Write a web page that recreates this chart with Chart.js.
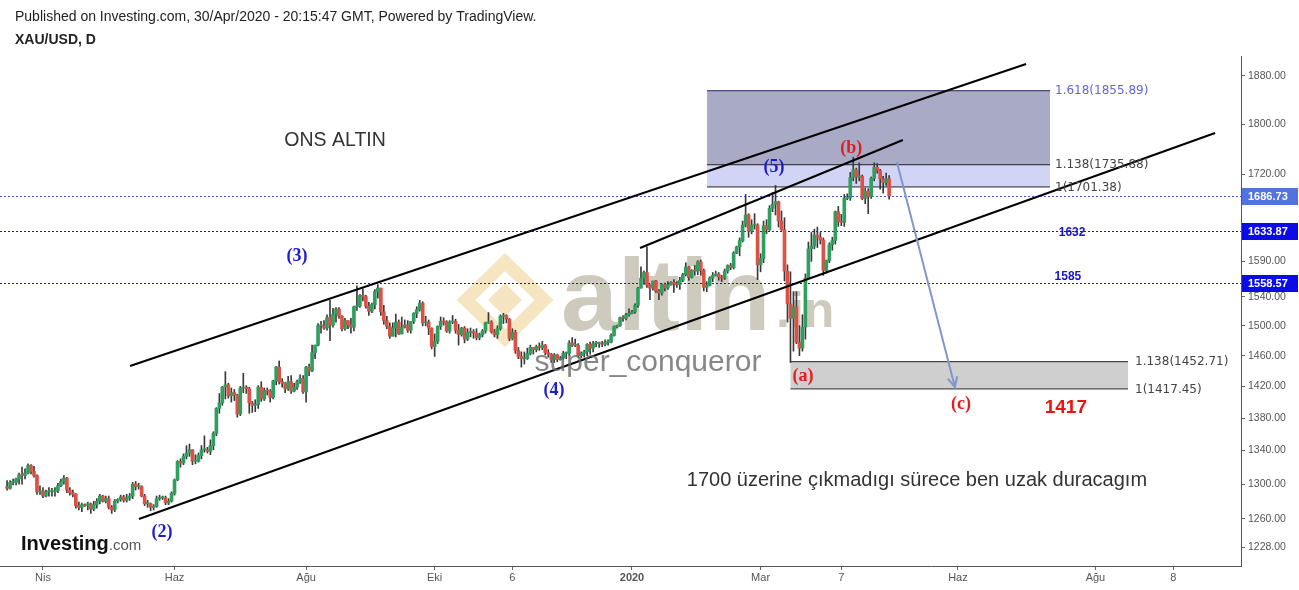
<!DOCTYPE html>
<html>
<head>
<meta charset="utf-8">
<script src="https://cdn.jsdelivr.net/npm/chart.js@4.4.0/dist/chart.umd.min.js"></script>
<style>
html, body { margin: 0; padding: 0; background: #fff; }
canvas { display: block; }
</style>
</head>
<body>
<canvas id="myChart" width="1299" height="590"></canvas>
<script>
// XAU/USD daily candles [open, high, low, close], one row per weekday, 14 Mar 2019 .. 30 Apr 2020
const candles = [
  [1297,1304,1293,1295],[1295,1304,1294,1302],
  [1302,1306,1299,1302],[1302,1307,1299,1306],[1306,1313,1300,1311],[1311,1320,1300,1310],[1310,1318,1306,1313],
  [1313,1324,1312,1322],[1322,1323,1312,1315],[1315,1321,1308,1310],[1310,1311,1288,1291],[1291,1298,1288,1292],
  [1292,1296,1284,1286],[1286,1293,1285,1291],[1291,1296,1286,1291],[1291,1295,1286,1291],[1291,1296,1286,1292],
  [1292,1301,1290,1298],[1298,1306,1297,1303],[1303,1310,1300,1307],[1307,1308,1290,1293],[1293,1296,1287,1290],
  [1290,1293,1285,1288],[1288,1289,1272,1275],[1275,1279,1270,1273],[1273,1278,1268,1276],[1276,1277,1274,1275],
  [1275,1279,1270,1277],[1277,1278,1266,1271],[1271,1280,1269,1276],[1276,1283,1272,1280],[1280,1288,1277,1286],
  [1286,1287,1279,1280],[1280,1286,1278,1283],[1283,1286,1271,1273],[1273,1275,1266,1270],[1270,1282,1268,1280],
  [1280,1283,1278,1282],[1282,1287,1280,1285],[1285,1287,1279,1281],[1281,1288,1279,1284],[1284,1289,1281,1286],
  [1286,1302,1283,1300],[1300,1303,1293,1297],[1297,1301,1294,1297],[1297,1298,1285,1286],[1286,1288,1275,1277],
  [1277,1281,1273,1277],[1277,1278,1269,1273],[1273,1276,1270,1274],[1274,1286,1273,1283],[1283,1287,1281,1284],
  [1284,1286,1282,1284],[1284,1286,1276,1278],[1278,1283,1276,1280],[1280,1291,1279,1289],[1289,1306,1287,1305],
  [1305,1328,1304,1327],[1327,1330,1320,1325],[1325,1336,1323,1333],[1333,1346,1330,1337],[1337,1348,1333,1341],
  [1341,1341,1323,1327],[1327,1335,1324,1327],[1327,1337,1326,1334],[1334,1346,1330,1341],[1341,1358,1338,1341],
  [1341,1344,1337,1339],[1339,1353,1335,1346],[1346,1363,1341,1361],[1361,1393,1358,1392],[1392,1411,1386,1399],
  [1399,1420,1396,1419],[1419,1439,1404,1422],[1422,1424,1405,1408],[1408,1418,1400,1412],[1412,1416,1402,1409],
  [1409,1410,1381,1385],[1385,1420,1383,1418],[1418,1437,1412,1419],[1419,1421,1411,1417],[1417,1419,1386,1399],
  [1399,1401,1387,1396],[1396,1403,1388,1397],[1397,1421,1392,1419],[1419,1426,1401,1404],[1404,1418,1402,1415],
  [1415,1418,1409,1414],[1414,1416,1400,1406],[1406,1428,1404,1427],[1427,1446,1422,1445],[1445,1453,1423,1426],
  [1426,1430,1419,1424],[1424,1425,1412,1417],[1417,1433,1415,1426],[1426,1434,1411,1414],[1414,1424,1413,1419],
  [1419,1428,1416,1426],[1426,1435,1424,1430],[1430,1434,1411,1413],[1413,1446,1400,1445],[1445,1449,1434,1440],
  [1440,1474,1439,1464],[1464,1474,1456,1474],[1474,1503,1473,1500],[1500,1506,1490,1500],[1500,1507,1495,1497],
  [1497,1515,1494,1511],[1511,1535,1480,1501],[1501,1524,1498,1516],[1516,1525,1505,1523],[1523,1525,1510,1513],
  [1513,1514,1493,1496],[1496,1510,1494,1507],[1507,1507,1496,1501],[1501,1510,1490,1498],[1498,1527,1493,1526],
  [1526,1555,1521,1527],[1527,1543,1525,1542],[1542,1551,1534,1540],[1540,1542,1524,1527],[1527,1532,1514,1520],
  [1520,1531,1518,1529],[1529,1550,1523,1547],[1547,1557,1538,1552],[1552,1552,1514,1519],[1519,1528,1502,1507],
  [1507,1513,1496,1499],[1499,1504,1483,1486],[1486,1504,1486,1497],[1497,1516,1485,1505],[1505,1508,1488,1489],
  [1489,1512,1489,1498],[1498,1508,1497,1501],[1501,1507,1491,1494],[1494,1506,1490,1506],[1506,1518,1503,1517],
  [1517,1526,1511,1522],[1522,1535,1520,1531],[1531,1533,1500,1504],[1504,1513,1500,1505],[1505,1508,1488,1497],
  [1497,1497,1469,1472],[1472,1489,1459,1479],[1479,1500,1476,1499],[1499,1512,1495,1506],[1506,1511,1501,1505],
  [1505,1507,1491,1493],[1493,1507,1490,1505],[1505,1514,1503,1506],[1506,1509,1490,1494],[1494,1502,1474,1488],
  [1488,1498,1486,1497],[1497,1499,1477,1482],[1482,1496,1480,1491],[1491,1497,1485,1492],[1492,1495,1483,1490],
  [1490,1496,1481,1484],[1484,1490,1481,1488],[1488,1495,1485,1493],[1493,1505,1490,1504],[1504,1518,1503,1505],
  [1505,1507,1490,1492],[1492,1495,1485,1488],[1488,1500,1483,1496],[1496,1515,1494,1513],[1513,1517,1503,1514],
  [1514,1515,1504,1509],[1509,1510,1480,1483],[1483,1496,1481,1491],[1491,1494,1463,1467],[1467,1471,1456,1459],
  [1459,1465,1445,1456],[1456,1465,1449,1456],[1456,1470,1455,1463],[1463,1474,1461,1471],[1471,1471,1462,1468],
  [1468,1474,1465,1472],[1472,1477,1467,1471],[1471,1479,1468,1474],[1474,1475,1461,1464],[1464,1468,1458,1462],
  [1462,1463,1451,1455],[1455,1463,1451,1461],[1461,1462,1452,1455],[1455,1459,1454,1457],[1457,1466,1455,1463],
  [1463,1465,1456,1463],[1463,1480,1461,1477],[1477,1484,1472,1474],[1474,1482,1472,1474],[1474,1476,1458,1460],
  [1460,1465,1457,1463],[1463,1467,1458,1465],[1465,1476,1460,1475],[1475,1478,1462,1470],[1470,1479,1465,1476],
  [1476,1479,1472,1476],[1476,1478,1471,1476],[1476,1479,1472,1475],[1475,1481,1473,1478],[1478,1481,1474,1478],
  [1478,1489,1477,1487],[1487,1500,1486,1499],[1499,1501,1497,1500],[1500,1512,1499,1511],[1511,1514,1506,1510],
  [1510,1517,1508,1515],[1515,1523,1513,1517],[1517,1521,1516,1519],[1519,1530,1517,1528],[1528,1553,1525,1552],
  [1552,1582,1552,1566],[1566,1576,1557,1574],[1574,1611,1553,1556],[1556,1557,1536,1552],[1552,1562,1549,1562],
  [1562,1563,1546,1548],[1548,1550,1536,1545],[1545,1558,1542,1557],[1557,1559,1548,1552],[1552,1561,1550,1557],
  [1557,1561,1556,1560],[1560,1564,1546,1558],[1558,1561,1553,1557],[1557,1567,1550,1563],[1563,1573,1561,1571],
  [1571,1588,1569,1582],[1582,1583,1563,1567],[1567,1578,1566,1577],[1577,1584,1570,1576],[1576,1591,1571,1589],
  [1589,1592,1570,1577],[1577,1579,1548,1553],[1553,1561,1547,1556],[1556,1568,1555,1566],[1566,1574,1561,1570],
  [1570,1576,1569,1572],[1572,1574,1563,1568],[1568,1570,1561,1566],[1566,1579,1564,1576],[1576,1585,1573,1584],
  [1584,1587,1578,1581],[1581,1604,1579,1602],[1602,1612,1601,1611],[1611,1624,1598,1620],[1620,1649,1618,1643],
  [1643,1689,1640,1658],[1658,1660,1625,1634],[1634,1651,1630,1643],[1643,1660,1637,1643],[1643,1645,1564,1585],
  [1585,1601,1575,1594],[1594,1649,1588,1642],[1642,1651,1630,1636],[1636,1672,1635,1668],[1668,1692,1663,1674],
  [1674,1703,1658,1678],[1678,1679,1640,1649],[1649,1664,1635,1636],[1636,1654,1562,1576],[1576,1585,1505,1530],
  [1530,1575,1451,1510],[1510,1547,1466,1526],[1526,1547,1476,1478],[1478,1500,1460,1470],[1470,1515,1466,1498],
  [1498,1572,1482,1566],[1566,1618,1566,1608],[1608,1632,1590,1612],[1612,1637,1608,1628],[1628,1640,1610,1625],
  [1625,1632,1615,1621],[1621,1624,1570,1577],[1577,1592,1573,1591],[1591,1617,1588,1614],[1614,1625,1606,1620],
  [1620,1664,1615,1663],[1663,1671,1641,1648],[1648,1659,1642,1647],[1647,1689,1641,1683],[1683,1690,1681,1684],
  [1684,1723,1680,1715],[1715,1747,1710,1727],[1727,1730,1706,1716],[1716,1738,1710,1717],[1717,1719,1681,1683],
  [1683,1699,1675,1694],[1694,1698,1660,1686],[1686,1716,1683,1714],[1714,1738,1710,1731],[1731,1737,1722,1726],
  [1726,1728,1697,1713],[1713,1717,1691,1707],[1707,1722,1703,1713],[1713,1718,1682,1686.73]
];

// x axis: bar index -> label
const xTickPos  = [12, 56, 100, 143, 169, 209, 252, 279, 318, 364, 390];
const xTickText = ['Nis', 'Haz', 'Ağu', 'Eki', '6', '2020', 'Mar', '7', 'Haz', 'Ağu', '8'];
const priceTicks = [1228, 1260, 1300, 1340, 1380, 1420, 1460, 1500, 1540, 1590, 1720, 1800, 1880];

// horizontal levels with price tags
const levelPrices = [1686.73, 1633.87, 1558.57];

// trend channels [idx1, price1, idx2, price2]
const channels = [
  [41.1, 1446.5, 340.8, 1900.5],
  [44.1, 1259.6, 404.0, 1785.6],
  [211.7, 1609.3, 299.6, 1774.3]
];

// fibonacci extensions
const fibUpRange = [234.1, 348.8];
const fibUpLevels = [1855.89, 1735.88, 1701.38];
const fibUpNames = ['1.618', '1.138', '1'];
const fibLowRange = [262, 374.9];
const fibLowLevels = [1452.71, 1417.45];
const fibLowNames = ['1.138', '1'];

// arrow from (b) to (c)
const arrowPts = [297.6, 1739.4, 317.0, 1419.2];

// wave labels [text, idx, price]
const waveBlue = [['(2)', 51.8, 1244.9], ['(3)', 97.0, 1597.6], ['(4)', 182.9, 1415.4], ['(5)', 256.5, 1731.5]];
const waveRed = [['(a)', 266.2, 1433.3], ['(b)', 282.3, 1761.6], ['(c)', 319.0, 1397.6]];
const levelNotes = [['1632', 356.2, 1632], ['1585', 354.8, 1567.6]];
const notes = [
  ['ONS ALTIN', 109.7, 1772.6],
  ['1700 üzerine çıkmadıgı sürece ben uzak duracagım', 304.3, 1304.7]
];
const targetNote = ['1417', 354.1, 1392.5];

const SANS = '"Liberation Sans", Arial, sans-serif';
const SERIF = '"Liberation Serif", "Times New Roman", serif';
const UP = '#2e9f5e', DOWN = '#dc5046';

const bodies = candles.map((c, i) => ({x: i, y: [c[0], c[3]]}));
const wicks = candles.map((c, i) => ({x: i, y: [c[2], c[1]]}));
const bodyColors = candles.map(c => c[3] >= c[0] ? UP : DOWN);

function line(ctx, x1, y1, x2, y2) {
    ctx.beginPath();
    ctx.moveTo(x1, y1);
    ctx.lineTo(x2, y2);
    ctx.stroke();
}

const overlay = {
    id: 'overlay',
    beforeDatasetsDraw(chart) {
        const {ctx, chartArea: a, scales: {x, y}} = chart;
        ctx.save();
        ctx.beginPath();
        ctx.rect(a.left, a.top, a.right - a.left, a.bottom - a.top);
        ctx.clip();

        // altin.in watermark
        ctx.strokeStyle = 'rgba(238,212,150,0.6)';
        ctx.lineWidth = 13;
        ctx.beginPath();
        ctx.moveTo(466, 300); ctx.lineTo(505, 262); ctx.lineTo(544, 300); ctx.lineTo(505, 338); ctx.closePath();
        ctx.stroke();
        ctx.fillStyle = 'rgba(232,196,120,0.45)';
        ctx.beginPath();
        ctx.moveTo(488, 300); ctx.lineTo(505, 283); ctx.lineTo(522, 300); ctx.lineTo(505, 317); ctx.closePath();
        ctx.fill();
        ctx.fillStyle = 'rgba(190,184,168,0.75)';
        ctx.textBaseline = 'alphabetic';
        ctx.textAlign = 'left';
        ctx.font = 'bold 102px ' + SANS;
        ctx.fillText('altin', 561, 330);
        ctx.font = 'bold 50px ' + SANS;
        ctx.fillText('.in', 776, 327);

        // upper fib box
        let xl = x.getPixelForValue(fibUpRange[0]), xr = x.getPixelForValue(fibUpRange[1]);
        let ys = fibUpLevels.map(p => y.getPixelForValue(p));
        ctx.fillStyle = '#a9aac6';
        ctx.fillRect(xl, ys[0], xr - xl, ys[1] - ys[0]);
        ctx.fillStyle = '#d2d4f6';
        ctx.fillRect(xl, ys[1], xr - xl, ys[2] - ys[1]);
        ctx.lineWidth = 1;
        ctx.strokeStyle = '#2a2a70';
        line(ctx, xl, ys[0] + 0.5, xr, ys[0] + 0.5);
        ctx.strokeStyle = '#1a1a1a';
        line(ctx, xl, ys[1] + 0.5, xr, ys[1] + 0.5);
        line(ctx, xl, ys[2] + 0.5, xr, ys[2] + 0.5);

        // lower fib box
        xl = x.getPixelForValue(fibLowRange[0]); xr = x.getPixelForValue(fibLowRange[1]);
        ys = fibLowLevels.map(p => y.getPixelForValue(p));
        ctx.fillStyle = '#cfcfcf';
        ctx.fillRect(xl, ys[0], xr - xl, ys[1] - ys[0]);
        ctx.strokeStyle = '#222';
        line(ctx, xl, ys[0] + 0.5, xr, ys[0] + 0.5);
        line(ctx, xl, ys[1] + 0.5, xr, ys[1] + 0.5);

        // dotted level lines
        ctx.setLineDash([2, 2]);
        levelPrices.forEach((p, i) => {
            const yy = Math.round(y.getPixelForValue(p)) + 0.5;
            ctx.strokeStyle = i === 0 ? '#3a5ad0' : '#20208c';
            line(ctx, a.left, yy, a.right, yy);
        });
        ctx.restore();
    },
    afterDatasetsDraw(chart) {
        const {ctx, chartArea: a, scales: {x, y}} = chart;
        const px = v => x.getPixelForValue(v), py = v => y.getPixelForValue(v);
        ctx.save();
        ctx.beginPath();
        ctx.rect(a.left, a.top, a.right - a.left, a.bottom - a.top);
        ctx.clip();

        // channels
        ctx.strokeStyle = '#000';
        ctx.lineWidth = 2;
        channels.forEach(c => line(ctx, px(c[0]), py(c[1]), px(c[2]), py(c[3])));

        // arrow
        const ax1 = px(arrowPts[0]), ay1 = py(arrowPts[1]), ax2 = px(arrowPts[2]), ay2 = py(arrowPts[3]);
        ctx.strokeStyle = '#7f98c9';
        ctx.lineWidth = 2;
        line(ctx, ax1, ay1, ax2, ay2);
        const ang = Math.atan2(ay2 - ay1, ax2 - ax1);
        ctx.beginPath();
        ctx.moveTo(ax2 - 11 * Math.cos(ang - 0.45), ay2 - 11 * Math.sin(ang - 0.45));
        ctx.lineTo(ax2, ay2);
        ctx.lineTo(ax2 - 11 * Math.cos(ang + 0.45), ay2 - 11 * Math.sin(ang + 0.45));
        ctx.stroke();

        // fib labels
        ctx.textAlign = 'left';
        ctx.textBaseline = 'middle';
        ctx.font = '12px "DejaVu Sans", Verdana, sans-serif';
        fibUpLevels.forEach((p, i) => {
            ctx.fillStyle = i === 0 ? '#6464d8' : '#444';
            ctx.fillText(fibUpNames[i] + '(' + p.toFixed(2) + ')', px(fibUpRange[1]) + 5, py(p) + 1);
        });
        fibLowLevels.forEach((p, i) => {
            ctx.fillStyle = '#444';
            ctx.fillText(fibLowNames[i] + '(' + p.toFixed(2) + ')', px(fibLowRange[1]) + 7, py(p) + 1);
        });

        // wave labels
        ctx.textAlign = 'center';
        ctx.font = 'bold 18px ' + SERIF;
        ctx.fillStyle = '#1c1cd0';
        waveBlue.forEach(w => ctx.fillText(w[0], px(w[1]), py(w[2])));
        ctx.fillStyle = '#e01e1e';
        waveRed.forEach(w => ctx.fillText(w[0], px(w[1]), py(w[2])));

        ctx.font = 'bold 12px ' + SANS;
        ctx.fillStyle = '#1414c8';
        levelNotes.forEach(n => ctx.fillText(n[0], px(n[1]), py(n[2])));

        ctx.fillStyle = '#ee1111';
        ctx.font = 'bold 19px ' + SANS;
        ctx.fillText(targetNote[0], px(targetNote[1]), py(targetNote[2]));

        ctx.fillStyle = '#333';
        ctx.font = '19.5px ' + SANS;
        ctx.fillText(notes[0][0], px(notes[0][1]), py(notes[0][2]));
        ctx.font = '20px ' + SANS;
        ctx.fillText(notes[1][0], px(notes[1][1]), py(notes[1][2]));

        // author watermark
        ctx.fillStyle = 'rgba(105,105,105,0.8)';
        ctx.font = '30px ' + SANS;
        ctx.fillText('super_conqueror', 648, 363);

        // Investing logo
        ctx.textAlign = 'left';
        ctx.fillStyle = '#111';
        ctx.font = 'bold 20px ' + SANS;
        ctx.fillText('Investing', 21, 544);
        const w = ctx.measureText('Investing').width;
        ctx.fillStyle = '#555';
        ctx.font = '15px ' + SANS;
        ctx.fillText('.com', 21 + w, 546);
        ctx.restore();
    },
    afterDraw(chart) {
        const {ctx, chartArea: a, scales: {y}} = chart;
        ctx.save();
        // price tags on the axis
        ctx.textAlign = 'left';
        ctx.textBaseline = 'middle';
        ctx.font = 'bold 11px ' + SANS;
        levelPrices.forEach((p, i) => {
            const yy = Math.round(y.getPixelForValue(p));
            ctx.fillStyle = i === 0 ? '#5272de' : '#0b0be8';
            ctx.fillRect(a.right + 1, yy - 8, 56, 17);
            ctx.fillStyle = '#fff';
            ctx.fillText(p.toFixed(2), a.right + 7, yy + 1);
        });
        // header
        ctx.fillStyle = '#222';
        ctx.font = '14px ' + SANS;
        ctx.fillText('Published on Investing.com, 30/Apr/2020 - 20:15:47 GMT, Powered by TradingView.', 15, 17);
        ctx.font = 'bold 14px ' + SANS;
        ctx.fillText('XAU/USD, D', 15, 40);
        ctx.restore();
    }
};

const ctx = document.getElementById('myChart').getContext('2d');
const myChart = new Chart(ctx, {
    type: 'bar',
    data: {
        datasets: [{
            label: 'body',
            data: bodies,
            backgroundColor: bodyColors,
            barThickness: 3,
            minBarLength: 1,
            grouped: false,
            order: 1
        }, {
            label: 'wick',
            data: wicks,
            backgroundColor: '#3a3a3a',
            barThickness: 1,
            grouped: false,
            order: 2
        }]
    },
    options: {
        responsive: false,
        devicePixelRatio: 1,
        animation: false,
        events: [],
        layout: { padding: { top: 56, left: 0, right: 0, bottom: 0 } },
        plugins: { legend: { display: false }, tooltip: { enabled: false } },
        scales: {
            x: {
                type: 'linear',
                min: -2.37,
                max: 412.68,
                bounds: 'data',
                offset: false,
                afterBuildTicks: s => { s.ticks = xTickPos.map(v => ({value: v})); },
                afterFit: s => { s.height = 24; },
                grid: { drawOnChartArea: false, drawTicks: true, tickLength: 4, color: '#666', offset: false },
                border: { display: true, color: '#555' },
                ticks: {
                    autoSkip: false,
                    maxRotation: 0,
                    padding: 1,
                    color: '#555',
                    font: c => ({ family: SANS, size: 11, weight: (c.tick && c.tick.label === '2020') ? 'bold' : 'normal' }),
                    callback: (v, i) => xTickText[i]
                }
            },
            y: {
                type: 'logarithmic',
                position: 'right',
                min: 1207.2,
                max: 1914.3,
                bounds: 'data',
                afterBuildTicks: s => { s.ticks = priceTicks.map(v => ({value: v})); },
                afterFit: s => { s.width = 58; },
                grid: { drawOnChartArea: false, drawTicks: true, tickLength: 4, color: '#666' },
                border: { display: true, color: '#555' },
                ticks: {
                    autoSkip: false,
                    padding: 3,
                    color: '#555',
                    font: { family: SANS, size: 10.5 },
                    callback: v => Number(v).toFixed(2)
                }
            }
        }
    },
    plugins: [overlay]
});
</script>
</body>
</html>
